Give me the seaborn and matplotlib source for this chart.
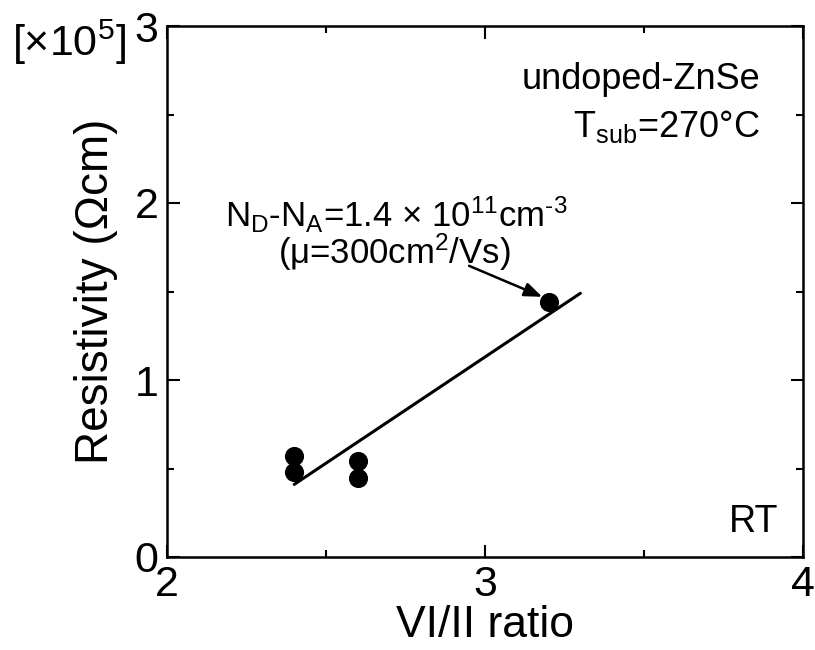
import matplotlib
matplotlib.use("Agg")
import matplotlib.pyplot as plt
import seaborn as sns
import pandas as pd

# Measured resistivity (units of 1e5 ohm·cm) versus VI/II flux ratio
vi_ii_ratio = [2.4, 2.4, 2.6, 2.6, 3.2]
resistivity = [0.57, 0.48, 0.54, 0.445, 1.44]

# Guide line through the data
fit_x = [2.4, 3.3]
fit_y = [0.41, 1.49]

x_ticks = [2, 3, 4]
y_ticks = [0, 1, 2, 3]

sns.set_theme(style="ticks")
plt.rcParams["font.family"] = ["Liberation Sans", "DejaVu Sans"]
plt.rcParams["mathtext.fontset"] = "custom"
plt.rcParams["mathtext.rm"] = "Liberation Sans"
plt.rcParams["mathtext.it"] = "Liberation Sans:italic"
plt.rcParams["mathtext.default"] = "regular"
plt.rcParams["text.color"] = "black"
plt.rcParams["axes.labelcolor"] = "black"

fig = plt.figure(figsize=(8.15, 6.5), dpi=100)
ax = fig.add_axes([167 / 815, 1 - 557 / 650, (803 - 167) / 815, (557 - 26) / 650])

pts = pd.DataFrame({"ratio": vi_ii_ratio, "rho": resistivity})
fit = pd.DataFrame({"ratio": fit_x, "rho": fit_y})

sns.lineplot(data=fit, x="ratio", y="rho", ax=ax, color="black", linewidth=2.2)
sns.scatterplot(data=pts, x="ratio", y="rho", ax=ax, color="black", s=190,
                edgecolor="black", linewidth=0, zorder=5)

ax.set_xlim(2, 4)
ax.set_ylim(0, 3)
ax.set_xticks(x_ticks)
ax.set_yticks(y_ticks)
ax.set_xticks([2.5, 3.5], minor=True)
ax.set_yticks([0.5, 1.5, 2.5], minor=True)
ax.tick_params(which="both", direction="in", top=True, right=True, width=1.5,
               colors="black", labelsize=31)
ax.tick_params(which="major", length=9, pad=6)
ax.tick_params(which="minor", length=5)
for s in ax.spines.values():
    s.set_linewidth(1.8)
    s.set_color("black")

ax.set_xlabel("VI/II ratio", fontsize=32, labelpad=0)
ax.set_ylabel("Resistivity (Ωcm)", fontsize=33, labelpad=12)

fig.text(12 / 815, 1 - 42 / 650, r"[×10$^{5}$]", fontsize=31, va="center", ha="left")

ax.text(3.865, 2.695, "undoped-ZnSe", fontsize=26, ha="right", va="center")
ax.text(3.865, 2.43, r"T$_{sub}$=270°C", fontsize=26, ha="right", va="center")
ax.text(3.922, 0.2, "RT", fontsize=27, ha="right", va="center")

ax.text(2.72, 1.93, r"N$_{D}$-N$_{A}$=1.4 × 10$^{11}$cm$^{\text{-}3}$", fontsize=25,
        ha="center", va="center")
ax.text(2.715, 1.72, r"(μ=300cm$^{2}$/Vs)", fontsize=25, ha="center", va="center")

ax.annotate("", xy=(3.18, 1.47), xytext=(2.95, 1.645),
            arrowprops=dict(arrowstyle="-|>,head_length=0.9,head_width=0.35",
                            color="black", lw=1.8, shrinkA=0, shrinkB=0))

fig.savefig("out.png", dpi=100)
